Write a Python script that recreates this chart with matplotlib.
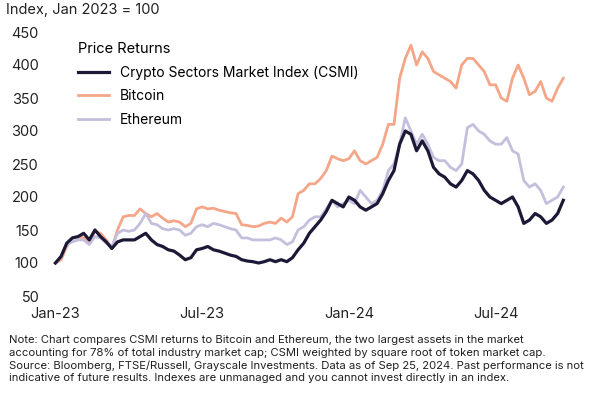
import pandas as pd
import matplotlib
matplotlib.use("Agg")
import matplotlib.pyplot as plt

plt.rcParams["font.family"] = "Inter"

# weekly index levels, Jan 2023 = 100
dates = pd.date_range("2023-01-01", periods=91, freq="7D")

btc = [100, 105, 125, 138, 140, 138, 132, 148, 145,
       135, 122, 150, 170, 172, 172, 182, 175, 170,
       175, 168, 162, 164, 162, 155, 160, 182, 185,
       182, 183, 180, 178, 176, 175, 158, 157,
       155, 156, 160, 162, 160, 168, 162, 170, 205,
       210, 220, 220, 228, 240, 262, 258, 255, 258,
       270, 255, 250, 255, 260, 280, 310, 310,
       380, 410, 430, 400, 420, 410, 390, 385, 380,
       375, 365, 400, 410, 410, 400, 390, 370, 370,
       350, 345, 380, 400, 380, 355, 360, 375,
       350, 345, 365, 380]

eth = [100, 110, 128, 132, 135, 135, 128, 140, 138,
       130, 125, 145, 150, 148, 150, 160, 175, 160,
       158, 152, 150, 152, 150, 142, 145, 155, 158,
       155, 160, 158, 155, 152, 150, 138, 138,
       135, 135, 135, 135, 138, 135, 128, 132, 150,
       155, 165, 170, 170, 182, 195, 185, 190, 195,
       190, 210, 200, 190, 195, 210, 240, 250,
       280, 320, 300, 280, 295, 280, 260, 255, 255,
       245, 240, 250, 305, 310, 300, 295, 285, 280,
       280, 290, 270, 265, 225, 215, 220, 210,
       190, 195, 200, 215]

csmi = [100, 110, 130, 138, 140, 145, 135, 150, 140,
        132, 122, 132, 135, 135, 135, 140, 145, 135,
        128, 125, 120, 118, 112, 105, 108, 120, 122,
        125, 120, 118, 115, 112, 110, 105, 103,
        102, 100, 102, 105, 102, 105, 102, 108, 120,
        130, 145, 155, 165, 178, 195, 190, 185, 200,
        195, 185, 180, 185, 190, 205, 225, 240,
        280, 300, 295, 270, 285, 270, 245, 235, 230,
        220, 215, 225, 240, 235, 225, 210, 200, 195,
        190, 195, 200, 185, 160, 165, 175, 170,
        160, 165, 175, 195]

yticks = [50, 100, 150, 200, 250, 300, 350, 400, 450]
xtick_dates = ["2023-01-01", "2023-07-01", "2024-01-01", "2024-07-01"]
xtick_labels = ["Jan-23", "Jul-23", "Jan-24", "Jul-24"]

note = ("Note: Chart compares CSMI returns to Bitcoin and Ethereum, the two largest assets in the market\n"
        "accounting for 78% of total industry market cap; CSMI weighted by square root of token market cap.\n"
        "Source: Bloomberg, FTSE/Russell, Grayscale Investments. Data as of Sep 25, 2024. Past performance is not\n"
        "indicative of future results. Indexes are unmanaged and you cannot invest directly in an index.")

fig = plt.figure(figsize=(6, 4), dpi=100)
ax = fig.add_axes([0.083, 0.26, 0.88, 0.66])

ax.plot(dates, btc, color="#f4a688", lw=2.0, label="Bitcoin")
ax.plot(dates, eth, color="#c3bfdc", lw=2.0, label="Ethereum")
ax.plot(dates, csmi, color="#1b1936", lw=2.3, label="Crypto Sectors Market Index (CSMI)")

ax.set_ylim(50, 450)
ax.set_yticks(yticks)
ax.set_xlim(pd.Timestamp("2022-12-25"), pd.Timestamp("2024-10-10"))
ax.set_xticks(pd.to_datetime(xtick_dates))
ax.set_xticklabels(xtick_labels)
for s in ax.spines.values():
    s.set_visible(False)
ax.tick_params(length=0, labelsize=10.5, colors="#222222")
ax.tick_params(axis="y", pad=8)
ax.tick_params(axis="x", pad=8)

h, l = ax.get_legend_handles_labels()
order = [2, 0, 1]
leg = ax.legend([h[i] for i in order], [l[i] for i in order], title="Price Returns",
                loc="upper left", bbox_to_anchor=(0.03, 1.01), frameon=False,
                fontsize=10, title_fontsize=10.5, handlelength=2.2, labelspacing=0.7)
leg._legend_box.align = "left"

fig.text(0.01, 0.965, "Index, Jan 2023 = 100", fontsize=10.5, color="#222222")
fig.text(0.015, 0.162, note, fontsize=8.1, va="top", linespacing=1.3, color="#222222")

fig.savefig("out.png", dpi=100)
